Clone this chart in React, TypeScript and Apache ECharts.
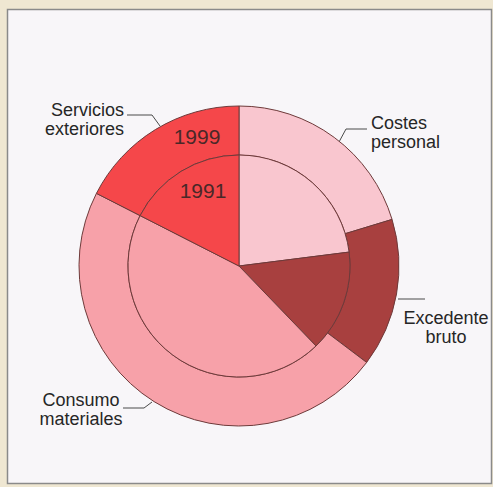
import React, { useEffect, useRef } from "react";
import * as echarts from "echarts";

const categories = ["Costes personal", "Excedente bruto", "Consumo materiales", "Servicios exteriores"];
const values1999 = [20.3, 15.0, 47.2, 17.5];
const values1991 = [23.0, 14.8, 44.7, 17.5];
const colors = ["#f9c6cf", "#a8403f", "#f7a1a9", "#f5474a"];
const yearLabels = ["1999", "1991"];

export default function App() {
  const ref = useRef<HTMLDivElement>(null);
  useEffect(() => {
    if (!ref.current) return;
    const chart = echarts.init(ref.current, null, { renderer: "svg" });
    const font = "Liberation Sans, Arial, sans-serif";
    const txt = "#262626";
    const mk = (vals: number[]) =>
      categories.map((name, i) => ({ name, value: vals[i], itemStyle: { color: colors[i] } }));
    const common = {
      type: "pie",
      center: [239, 266],
      startAngle: 90,
      clockwise: true,
      silent: true,
      avoidLabelOverlap: false,
      label: { show: false },
      labelLine: { show: false },
      emphasis: { disabled: true },
      itemStyle: { borderColor: "#6e3a3a", borderWidth: 1 },
    };
    const lbl = (text: string, x: number, y: number, align: string) => ({
      type: "text",
      x,
      y,
      style: {
        text,
        fill: txt,
        font: `18px ${font}`,
        align,
        verticalAlign: "top",
        lineHeight: 19,
      },
    });
    const leader = (points: number[][]) => ({
      type: "polyline",
      shape: { points },
      style: { stroke: "#4a4a4a", lineWidth: 1, fill: "none" },
    });
    chart.setOption({
      animation: false,
      backgroundColor: "#efe7d2",
      graphic: [
        {
          type: "rect",
          z: -10,
          shape: { x: 7.5, y: 9.5, width: 484, height: 474 },
          style: { fill: "#f8f6f9", stroke: "#8a8a8a", lineWidth: 1.5 },
        },
        lbl("Servicios\nexteriores", 124, 100, "right"),
        leader([[127, 115], [152, 115], [160, 126]]),
        lbl("Costes\npersonal", 371, 113, "left"),
        leader([[367, 129], [346, 129], [339, 142]]),
        lbl("Excedente\nbruto", 446, 308, "center"),
        leader([[398, 299], [425, 299]]),
        lbl("Consumo\nmateriales", 81, 390, "center"),
        leader([[123, 408], [144, 408], [152, 402]]),
        {
          type: "text",
          x: 197,
          y: 136,
          z: 100,
          style: { text: yearLabels[0], fill: "#4a2828", font: `21px ${font}`, align: "center", verticalAlign: "middle" },
        },
        {
          type: "text",
          x: 203,
          y: 190,
          z: 100,
          style: { text: yearLabels[1], fill: "#4a2828", font: `21px ${font}`, align: "center", verticalAlign: "middle" },
        },
      ],
      series: [
        { ...common, name: yearLabels[0], radius: [111, 160], data: mk(values1999) },
        { ...common, name: yearLabels[1], radius: [0, 111], data: mk(values1991) },
      ],
    });
    return () => chart.dispose();
  }, []);
  return (
    <div
      ref={ref}
      style={{ position: "absolute", left: 0, top: 0, width: 493, height: 487 }}
    />
  );
}
